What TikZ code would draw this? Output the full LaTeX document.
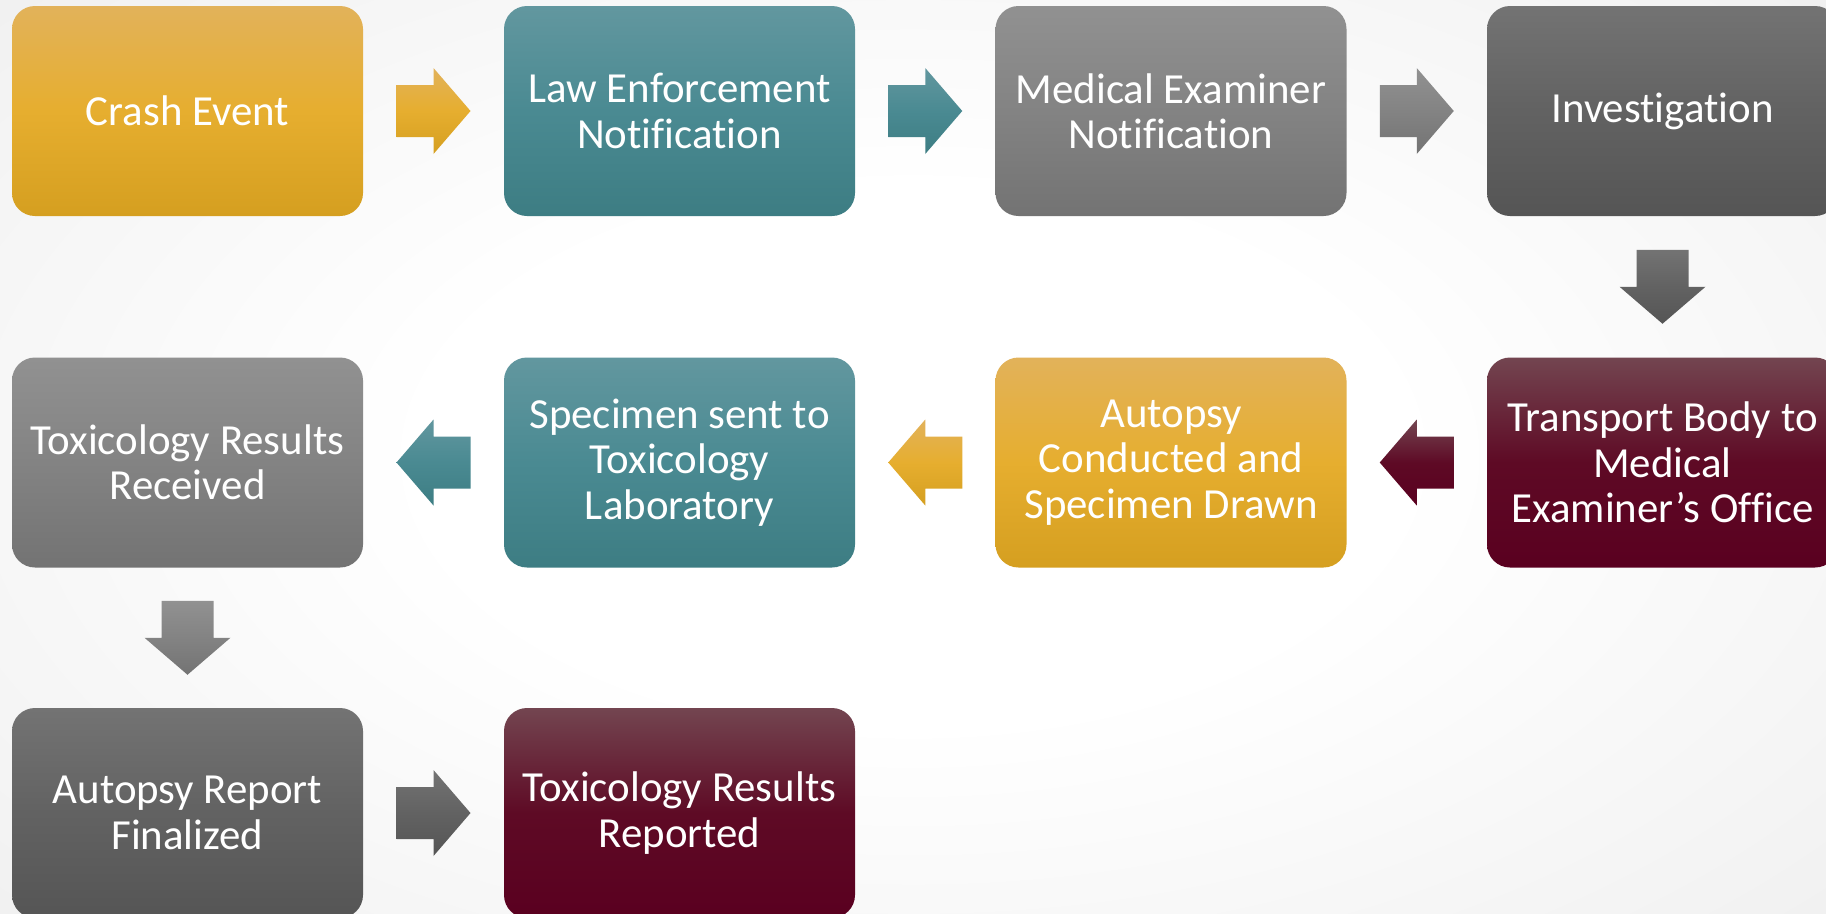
\documentclass[tikz,border=0pt]{standalone}
\usepackage{fontspec}
\setmainfont{Carlito}[Ligatures={NoCommon,NoRare,NoContextual}]
\definecolor{gtop}{HTML}{E2B25A}\definecolor{gmid}{HTML}{E6AE2F}\definecolor{gbot}{HTML}{D59F20}
\definecolor{ttop}{HTML}{62979F}\definecolor{tmid}{HTML}{4A8A92}\definecolor{tbot}{HTML}{3D7D83}
\definecolor{ltop}{HTML}{919191}\definecolor{lmid}{HTML}{838383}\definecolor{lbot}{HTML}{737373}
\definecolor{dtop}{HTML}{737373}\definecolor{dmid}{HTML}{626262}\definecolor{dbot}{HTML}{555555}
\definecolor{mtop}{HTML}{734550}\definecolor{mmid}{HTML}{5E0A25}\definecolor{mbot}{HTML}{5A0020}
\definecolor{bgedge}{HTML}{E2E2E2}
\pgfdeclareradialshading{bgshade}{\pgfpoint{0bp}{0bp}}{color(0bp)=(white); color(12bp)=(white); color(50bp)=(bgedge); color(70bp)=(bgedge)}
\tikzset{
  stepbox/.style n args={3}{rounded corners=2.3mm, minimum width=35.1mm, minimum height=21mm,
    inner sep=0pt, align=center, text=white, font=\fontsize{12.2}{12.9}\selectfont,
    top color=#1, bottom color=#3, middle color=#2},
  pics/rarr/.style n args={3}{code={\path[top color=#1,bottom color=#3,middle color=#2]
    (-37,-26) -- (0,-26) -- (0,-43) -- (37,0) -- (0,43) -- (0,26) -- (-37,26) -- cycle;}},
  pics/larr/.style n args={3}{code={\path[top color=#1,bottom color=#3,middle color=#2]
    (37,-26) -- (0,-26) -- (0,-43) -- (-37,0) -- (0,43) -- (0,26) -- (37,26) -- cycle;}},
  pics/darr/.style n args={3}{code={\path[top color=#1,bottom color=#3,middle color=#2]
    (-26,37) -- (-26,0) -- (-43,0) -- (0,-37) -- (43,0) -- (26,0) -- (26,37) -- cycle;}},
}
\begin{document}
\begin{tikzpicture}[x=0.1mm,y=0.1mm]
\useasboundingbox (0,0) rectangle (1826,913);
\clip (0,0) rectangle (1826,913);
\shade[shading=bgshade] (-100,-100) rectangle (1926,1013);
% row 1
\node[stepbox={gtop}{gmid}{gbot}] (n1) at (187.5,802) {Crash Event};
\node[stepbox={ttop}{tmid}{tbot}] (n2) at (679.5,802) {Law Enforcement\\Notification};
\node[stepbox={ltop}{lmid}{lbot}] (n3) at (1171,802) {Medical Examiner\\Notification};
\node[stepbox={dtop}{dmid}{dbot}] (n4) at (1662.5,802) {Investigation};
% row 2
\node[stepbox={mtop}{mmid}{mbot}] (n5) at (1662.5,450.5) {Transport Body to\\Medical\\Examiner’s Office};
\node[stepbox={gtop}{gmid}{gbot}] (n6) at (1171,450.5) {Autopsy\\Conducted and\\Specimen Drawn};
\node[stepbox={ttop}{tmid}{tbot}] (n7) at (679.5,450.5) {Specimen sent to\\Toxicology\\Laboratory};
\node[stepbox={ltop}{lmid}{lbot}] (n8) at (187.5,450.5) {Toxicology Results\\Received};
% row 3
\node[stepbox={dtop}{dmid}{dbot}] (n9) at (187.5,100) {Autopsy Report\\Finalized};
\node[stepbox={mtop}{mmid}{mbot}] (n10) at (679.5,100) {Toxicology Results\\Reported};
% arrow positions
\path (n1) -- (n2) coordinate[midway] (a1);
\path (n2) -- (n3) coordinate[midway] (a2);
\path (n3) -- (n4) coordinate[midway] (a3);
\path (n4) -- (n5) coordinate[midway] (a4);
\path (n5) -- (n6) coordinate[midway] (a5);
\path (n6) -- (n7) coordinate[midway] (a6);
\path (n7) -- (n8) coordinate[midway] (a7);
\path (n8) -- (n9) coordinate[midway] (a8);
\path (n9) -- (n10) coordinate[midway] (a9);
\pic at (a1) {rarr={gtop}{gmid}{gbot}};
\pic at (a2) {rarr={ttop}{tmid}{tbot}};
\pic at (a3) {rarr={ltop}{lmid}{lbot}};
\pic at (a4) {darr={dtop}{dmid}{dbot}};
\pic at (a5) {larr={mtop}{mmid}{mbot}};
\pic at (a6) {larr={gtop}{gmid}{gbot}};
\pic at (a7) {larr={ttop}{tmid}{tbot}};
\pic at (a8) {darr={ltop}{lmid}{lbot}};
\pic at (a9) {rarr={dtop}{dmid}{dbot}};
\end{tikzpicture}
\end{document}
